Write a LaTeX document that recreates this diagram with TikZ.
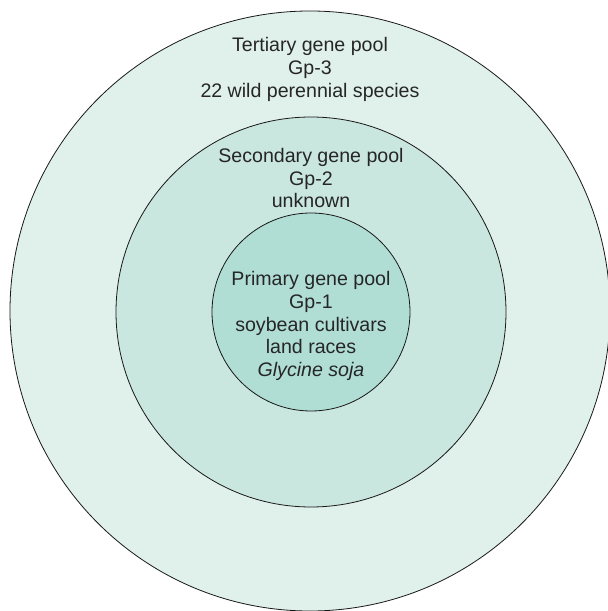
\documentclass[tikz,border=0pt]{standalone}
\usepackage{fontspec}
\setmainfont{Liberation Sans}
\usetikzlibrary{positioning}

\definecolor{poolthree}{RGB}{224,241,236}
\definecolor{pooltwo}{RGB}{201,230,223}
\definecolor{poolone}{RGB}{176,222,213}

\begin{document}
\begin{tikzpicture}[
    x=0.5pt, y=0.5pt,
    pool/.style={circle, draw=black!90, line width=0.4pt, inner sep=0pt},
    pooltext/.style={align=center, inner sep=0pt, text=black!85, font=\fontsize{9.8pt}{11.35pt}\selectfont}
]
    \useasboundingbox (0,0) rectangle (608,611);

    % Circles, outermost first
    \node[pool, fill=poolthree, minimum size=300pt] (gp3) at (310,300) {};
    \node[pool, fill=pooltwo, minimum size=195pt] (gp2) at (311,299) {};
    \node[pool, fill=poolone, minimum size=99pt] (gp1) at (311,299) {};

    % Labels
    \node[pooltext, below=13.3pt of gp3.north] (gp3text) {Tertiary gene pool\\Gp-3\\22 wild perennial species};
    \node[pooltext, below=15.7pt of gp2.north] (gp2text) {Secondary gene pool\\Gp-2\\unknown};
    \node[pooltext, below=29.3pt of gp1.north] (gp1text) {Primary gene pool\\Gp-1\\soybean cultivars\\land races\\\textit{Glycine soja}};

\end{tikzpicture}
\end{document}
